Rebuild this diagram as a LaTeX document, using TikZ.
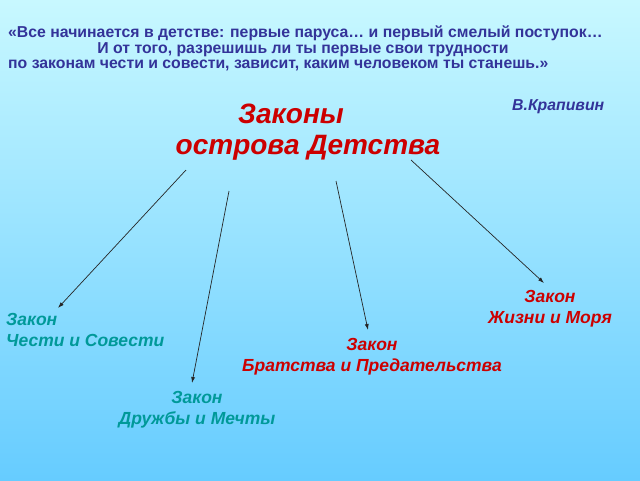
\documentclass[tikz,border=0pt]{standalone}
\usepackage{fontspec}
\setmainfont{Liberation Sans}
\usetikzlibrary{arrows.meta}
\definecolor{quoteblue}{HTML}{333399}
\definecolor{lawred}{HTML}{CC0000}
\definecolor{lawteal}{HTML}{009999}
\definecolor{skytop}{HTML}{C8F8FF}
\definecolor{skybottom}{HTML}{66CCFF}

\begin{document}
\begin{tikzpicture}[x=1pt,y=-1pt,
  quote/.style={text=quoteblue, font=\bfseries\fontsize{15.8}{16}\selectfont, inner sep=0pt},
  title/.style={text=lawred, font=\bfseries\itshape\fontsize{28}{31}\selectfont, inner sep=0pt},
  law/.style={font=\bfseries\itshape\fontsize{17.5}{21}\selectfont, inner sep=0pt},
  lawarrow/.style={-{Latex[length=6pt,width=4pt]}, line width=0.7pt, black!85}]
  \shade[top color=skytop, bottom color=skybottom] (0,0) rectangle (640,480);

  % quote
  \node[quote, anchor=base west] (q1) at (8,37.5) {«Все начинается в детстве: первые паруса… и первый смелый поступок…};
  \node[quote, anchor=base] (q2) at (303,53) {И от того, разрешишь ли ты первые свои трудности};
  \node[quote, anchor=base west] (q3) at (8,68.5) {по законам чести и совести, зависит, каким человеком ты станешь.»};
  \node[quote, font=\bfseries\itshape\fontsize{15.8}{16}\selectfont, anchor=base west] (author) at (512,110) {В.Крапивин};

  % title
  \node[title, anchor=base] (laws) at (291,123) {Законы};
  \node[title, anchor=base] (island) at (308,154) {острова Детства};

  % laws
  \node[law, text=lawteal, align=left, anchor=west] (honor) at (6,330) {Закон\\Чести и Совести};
  \node[law, text=lawteal, align=center] (friendship) at (197,410) {Закон\\Дружбы и Мечты};
  \node[law, text=lawred, align=center] (brotherhood) at (372,357) {Закон\\Братства и Предательства};
  \node[law, text=lawred, align=center] (life) at (550,309) {Закон\\Жизни и Моря};

  \coordinate (honorS) at (186,170);
  \coordinate (honorE) at (58,308);
  \coordinate (friendshipS) at (229,191);
  \coordinate (friendshipE) at (192,383);
  \coordinate (brotherhoodS) at (336,181);
  \coordinate (brotherhoodE) at (368,330);
  \coordinate (lifeS) at (411,160);
  \coordinate (lifeE) at (544,283);

  \draw[lawarrow] (honorS) -- (honorE);
  \draw[lawarrow] (friendshipS) -- (friendshipE);
  \draw[lawarrow] (brotherhoodS) -- (brotherhoodE);
  \draw[lawarrow] (lifeS) -- (lifeE);
\end{tikzpicture}
\end{document}
